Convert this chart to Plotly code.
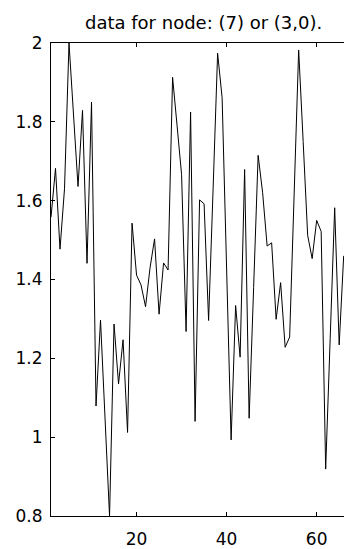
import plotly.graph_objects as go

x_values = list(range(1, 67))
y_values = [
    1.558, 1.682, 1.477, 1.63, 2.0, 1.82, 1.636, 1.829, 1.441, 1.85,
    1.079, 1.297, 1.05, 0.8, 1.287, 1.135, 1.247, 1.012, 1.543, 1.411,
    1.386, 1.331, 1.43, 1.503, 1.312, 1.442, 1.424, 1.913, 1.79, 1.666,
    1.268, 1.825, 1.040, 1.602, 1.592, 1.296, 1.63, 1.974, 1.861, 1.45,
    0.993, 1.334, 1.203, 1.679, 1.048, 1.38, 1.715, 1.62, 1.485, 1.493,
    1.299, 1.392, 1.228, 1.254, 1.62, 1.982, 1.75, 1.512, 1.453, 1.55,
    1.522, 0.919, 1.25, 1.582, 1.234, 1.46,
]
x_ticks = [20, 40, 60]
y_ticks = [0.8, 1, 1.2, 1.4, 1.6, 1.8, 2]
y_tick_text = ["0.8", "1", "1.2", "1.4", "1.6", "1.8", "2"]
title_text = "data for node: (7) or (3,0)."

FONT = "DejaVu Sans, Liberation Sans, Arial, sans-serif"

fig = go.Figure(
    go.Scatter(x=x_values, y=y_values, mode="lines",
               line=dict(color="black", width=1), showlegend=False)
)

fig.update_layout(
    width=344, height=549,
    margin=dict(l=51, r=0, t=43, b=30),
    paper_bgcolor="white", plot_bgcolor="white",
    font=dict(family=FONT, size=17, color="black"),
    annotations=[dict(text=title_text, xref="paper", yref="paper", x=0.52, y=1.0,
                      yshift=21, showarrow=False, xanchor="center", yanchor="middle",
                      font=dict(family=FONT, size=18, color="black"))],
)
fig.update_xaxes(
    range=[1, 66.07], tickvals=x_ticks, ticks="inside", ticklen=4, tickcolor="black",
    showline=True, linecolor="black", linewidth=1, mirror="ticks",
    showgrid=False, zeroline=False, tickfont=dict(family=FONT, size=17),
    ticklabelstandoff=8,
)
fig.update_yaxes(
    range=[0.8, 2], tickvals=y_ticks, ticktext=y_tick_text,
    ticks="inside", ticklen=4, tickcolor="black",
    showline=True, linecolor="black", linewidth=1, mirror=False,
    showgrid=False, zeroline=False, tickfont=dict(family=FONT, size=17),
    ticklabelstandoff=4,
)

fig.write_html(
    "out.html",
    config={"displayModeBar": False},
    post_script="document.body.style.margin='0';document.body.style.overflow='hidden';",
)
